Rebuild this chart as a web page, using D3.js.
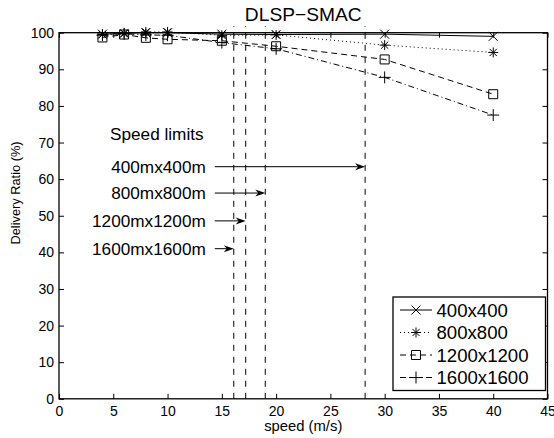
<!DOCTYPE html>
<html><head><meta charset="utf-8">
<script src="https://cdn.jsdelivr.net/npm/d3@7"></script>
<style>body{margin:0;background:#fff} svg{display:block;font-family:"Liberation Sans",Arial,Helvetica,sans-serif}</style>
</head><body><svg id="c" width="554" height="438"></svg>
<script>
const speeds = [4, 6, 8, 10, 15, 20, 30, 40];
const seriesNames = ["400x400", "800x800", "1200x1200", "1600x1600"];
const ratio400 = [99.6, 99.8, 100, 100, 99.6, 99.5, 99.6, 99.0];
const ratio800 = [99.5, 99.8, 100.2, 100.2, 99.3, 99.4, 96.6, 94.6];
const ratio1200 = [98.7, 99.5, 98.6, 98.2, 97.8, 96.3, 92.7, 83.2];
const ratio1600 = [99.3, 99.7, 99.4, 99.3, 97.3, 95.6, 87.8, 77.5];
const limitTitle = "Speed limits";
const limitLabels = ["400mx400m", "800mx800m", "1200mx1200m", "1600mx1600m"];
const limitSpeeds = [28.2, 19.0, 17.2, 16.1];
const arrowLevels = [63.4, 56.2, 48.6, 41.0];
const arrowStart = 14.35;
const limitTop = 101.8;
const xTicks = [0, 5, 10, 15, 20, 25, 30, 35, 40, 45];
const yTicks = [0, 10, 20, 30, 40, 50, 60, 70, 80, 90, 100];
const titleText = "DLSP\u2212SMAC";
const xLabel = "speed (m/s)";
const yLabel = "Delivery Ratio (%)";

const seriesData = [ratio400, ratio800, ratio1200, ratio1600];
const styles = [
  {dash: null, marker: "x"},
  {dash: "1,3", marker: "star"},
  {dash: "6,4", marker: "square"},
  {dash: "6,3,1,3", marker: "plus"}
];

const svg = d3.select("#c");
const L = 59, R = 547.5, T = 32.7, B = 398.8;
const x = d3.scaleLinear().domain([0, 45]).range([L, R]);
const y = d3.scaleLinear().domain([0, 100]).range([B, T]);

function markerPath(type) {
  if (type === "x") { const h = 4.5; return `M${-h},${-h}L${h},${h}M${-h},${h}L${h},${-h}`; }
  if (type === "plus") { const h = 6; return `M${-h},0L${h},0M0,${-h}L0,${h}`; }
  if (type === "square") { const h = 4.5; return `M${-h},${-h}H${h}V${h}H${-h}Z`; }
  const h = 5, d = 3.6;
  return `M${-h},0L${h},0M0,${-h}L0,${h}M${-d},${-d}L${d},${d}M${-d},${d}L${d},${-d}`;
}

// axes box with inward ticks
const axB = svg.append("g").attr("transform", `translate(0,${B})`)
  .call(d3.axisBottom(x).tickValues(xTicks).tickSize(-5).tickPadding(7.5).tickFormat(d3.format("d")));
const axT = svg.append("g").attr("transform", `translate(0,${T})`)
  .call(d3.axisTop(x).tickValues(xTicks).tickSize(-5).tickFormat(""));
const axL = svg.append("g").attr("transform", `translate(${L},0)`)
  .call(d3.axisLeft(y).tickValues(yTicks).tickSize(-5).tickPadding(5).tickFormat(d3.format("d")));
const axR = svg.append("g").attr("transform", `translate(${R},0)`)
  .call(d3.axisRight(y).tickValues(yTicks).tickSize(-5).tickFormat(""));
[axB, axT, axL, axR].forEach(g => {
  g.select(".domain").remove();
  g.selectAll("line").attr("stroke", "#000").attr("stroke-width", 1);
  g.selectAll("text").attr("fill", "#000").attr("font-size", "14px").attr("font-family", null);
});
axB.selectAll("text").attr("dy", "0.71em");
svg.append("rect").attr("x", L).attr("y", T).attr("width", R - L).attr("height", B - T)
  .attr("fill", "none").attr("stroke", "#000").attr("stroke-width", 1.3);

// speed limit vertical dashed lines
svg.append("g").selectAll("line").data(limitSpeeds).join("line")
  .attr("x1", d => x(d)).attr("x2", d => x(d))
  .attr("y1", y(0)).attr("y2", y(limitTop))
  .attr("stroke", "#000").attr("stroke-width", 1).attr("stroke-dasharray", "6,6");

// arrows
const ag = svg.append("g");
limitSpeeds.forEach((s, i) => {
  const yy = y(arrowLevels[i]), x0 = x(arrowStart), x1 = x(s);
  ag.append("line").attr("x1", x0).attr("x2", x1 - 4).attr("y1", yy).attr("y2", yy)
    .attr("stroke", "#000").attr("stroke-width", 1);
  ag.append("path").attr("d", `M${x1},${yy}L${x1 - 10},${yy - 3.5}L${x1 - 7},${yy}L${x1 - 10},${yy + 3.5}Z`)
    .attr("fill", "#000");
  ag.append("text").attr("x", x0 - 9).attr("y", yy + 6).attr("text-anchor", "end")
    .attr("font-size", "17.2px").text(limitLabels[i]);
});
ag.append("text").attr("x", 110).attr("y", y(70.6)).attr("font-size", "17.2px").text(limitTitle);

// series
const line = d3.line().x((d, i) => x(speeds[i])).y(d => y(d));
seriesData.forEach((vals, k) => {
  const st = styles[k];
  svg.append("path").datum(vals).attr("d", line).attr("fill", "none")
    .attr("stroke", "#000").attr("stroke-width", 1)
    .attr("stroke-dasharray", st.dash);
  svg.append("g").selectAll("path").data(vals).join("path")
    .attr("transform", (d, i) => `translate(${x(speeds[i])},${y(d)})`)
    .attr("d", markerPath(st.marker)).attr("fill", "none").attr("stroke", "#000").attr("stroke-width", 1);
});

// legend
const lg = svg.append("g");
const lx0 = 393, lx1 = 545.5, ly0 = 297, ly1 = 390.5;
lg.append("rect").attr("x", lx0).attr("y", ly0).attr("width", lx1 - lx0).attr("height", ly1 - ly0)
  .attr("fill", "#fff").attr("stroke", "#000").attr("stroke-width", 1.3);
seriesNames.forEach((n, k) => {
  const cy = 310 + k * 22.5;
  lg.append("line").attr("x1", 400).attr("x2", 432).attr("y1", cy).attr("y2", cy)
    .attr("stroke", "#000").attr("stroke-width", 1).attr("stroke-dasharray", styles[k].dash);
  lg.append("path").attr("transform", `translate(416,${cy})`).attr("d", markerPath(styles[k].marker))
    .attr("fill", "none").attr("stroke", "#000").attr("stroke-width", 1);
  lg.append("text").attr("x", 436.5).attr("y", cy + 6.8).attr("font-size", "18.6px").text(n);
});

// titles
svg.append("text").attr("x", (L + R) / 2).attr("y", 20.7).attr("text-anchor", "middle")
  .attr("font-size", "19.2px").text(titleText);
svg.append("text").attr("x", (L + R) / 2).attr("y", 431).attr("text-anchor", "middle")
  .attr("font-size", "14.8px").text(xLabel);
svg.append("text").attr("transform", "translate(20,193) rotate(-90)").attr("text-anchor", "middle")
  .attr("font-size", "12.8px").text(yLabel);
</script></body></html>
